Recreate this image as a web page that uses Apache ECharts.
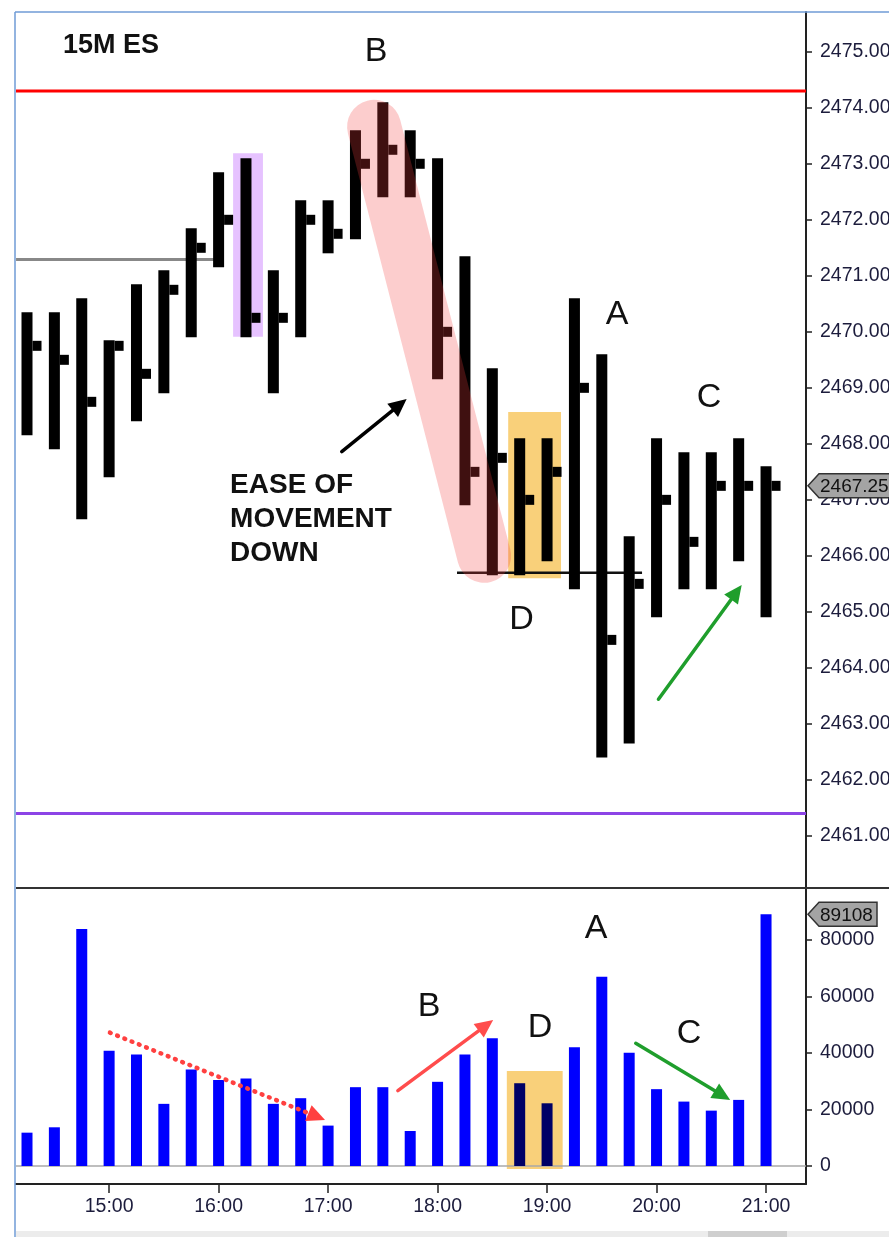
<!DOCTYPE html>
<html><head><meta charset="utf-8">
<script src="https://cdn.jsdelivr.net/npm/echarts@6/dist/echarts.min.js"></script>
<style>html,body{margin:0;padding:0;background:#fff}#c{width:889px;height:1237px}</style>
</head><body><div id="c"></div>
<script>
// ---------- data ----------
const times = ['14:15','14:30','14:45','15:00','15:15','15:30','15:45','16:00','16:15','16:30','16:45','17:00','17:15','17:30','17:45','18:00','18:15','18:30','18:45','19:00','19:15','19:30','19:45','20:00','20:15','20:30','20:45','21:00'];
const highs  = [2470.25,2470.25,2470.5,2469.75,2470.75,2471.0,2471.75,2472.75,2473.0,2471.0,2472.25,2472.25,2473.5,2474.0,2473.5,2473.0,2471.25,2469.25,2468.0,2468.0,2470.5,2469.5,2466.25,2468.0,2467.75,2467.75,2468.0,2467.5];
const lows   = [2468.25,2468.0,2466.75,2467.5,2468.5,2469.0,2470.0,2471.25,2470.0,2469.0,2470.0,2471.5,2471.75,2472.5,2472.5,2469.25,2467.0,2465.75,2465.75,2466.0,2465.5,2462.5,2462.75,2465.0,2465.5,2465.5,2466.0,2465.0];
const closes = [2469.75,2469.5,2468.75,2469.75,2469.25,2470.75,2471.5,2472.0,2470.25,2470.25,2472.0,2471.75,2473.0,2473.25,2473.0,2470.0,2467.5,2467.75,2467.0,2467.5,2469.0,2464.5,2465.5,2467.0,2466.25,2467.25,2467.25,2467.25];
const volumes = [11800,13700,83900,40800,39500,22000,34200,30400,31000,22000,24000,14300,27900,27900,12400,29800,39500,45200,29300,22200,42000,67000,40100,27200,22800,19600,23400,89108];
const priceTicks = [2461,2462,2463,2464,2465,2466,2467,2468,2469,2470,2471,2472,2473,2474,2475];
const volumeTicks = [0,20000,40000,60000,80000];
const dZoneBars = [18,19];
// horizontal levels: [fromIndex|null, toIndex|null, price, name]
const priceLevels = [[null,null,2474.3,'high'],[null,null,2461.4,'low'],[-0.4,7.05,2471.29,'prior'],[15.71,22.47,2465.70,'dline']];
// highlight boxes: [x1, y1, x2, y2, name]
const priceBoxes = [[7.53,2469.91,8.62,2473.19,'purple'],[17.58,2465.60,19.51,2468.57,'orange']];
const volumeBoxes = [[17.53,-1060,19.57,33600,'orange']];
// ease-of-movement capsule
const capsule = [[12.68,2473.66,16.70,2466.0]];
// arrows: [x1,y1,x2,y2,name]
const priceArrows = [[11.50,2467.86,13.87,2468.80,'black'],[23.07,2463.44,26.11,2465.48,'green']];
const volumeArrows = [[3.03,47190,10.89,16280,'reddot'],[13.55,26660,17.03,51680,'red'],[22.24,43440,25.69,23360,'green']];
// labels: [x, y, text]
const priceLabels = [[12.75,2475.0,'B'],[21.56,2470.30,'A'],[24.92,2468.82,'C'],[18.07,2464.86,'D']];
const noteLabels = [[7.42,2466.66,'EASE OF\nMOVEMENT\nDOWN']];
const volumeLabels = [[14.69,56290,'B'],[18.74,48850,'D'],[20.79,83900,'A'],[24.19,46730,'C']];

// ---------- layout / style ----------
const FONT = '"Liberation Sans", Arial, sans-serif';
const xMin = -0.402, xMax = 28.46;
const pMin = 2460.07, pMax = 2475.71;
const vMin = -6372, vMax = 98407;
const hourIdx = times.map((t,i)=>t.endsWith(':00')?i:-1).filter(i=>i>=0);
const levelColors = {high:'#ff0000', low:'#8c44e6', prior:'#888888', dline:'#111111'};
const boxColors = {purple:'#e6c2ff', orange:'#f9d07a'};
const arrowColors = {black:'#000000', green:'#1f9e2c', red:'#ff4c4c', reddot:'#ff4040'};

const chart = echarts.init(document.getElementById('c'), null, {renderer:'canvas'});

function boxSeries(data, xi, z){
  return {type:'custom', xAxisIndex:xi, yAxisIndex:xi, z:z, clip:false, silent:true,
    data:data.map(d=>[d[0],d[1],d[2],d[3]]),
    renderItem(params, api){
      const d = data[params.dataIndex];
      const a = api.coord([d[0], d[3]]), b = api.coord([d[2], d[1]]);
      return {type:'rect', shape:{x:a[0], y:a[1], width:b[0]-a[0], height:b[1]-a[1]}, style:{fill:boxColors[d[4]]}};
    }};
}
function arrowSeries(data, xi, z){
  return {type:'custom', xAxisIndex:xi, yAxisIndex:xi, z:z, clip:false, silent:true,
    data:data.map(d=>[d[0],d[1],d[2],d[3]]),
    renderItem(params, api){
      const d = data[params.dataIndex];
      const p1 = api.coord([d[0], d[1]]), p2 = api.coord([d[2], d[3]]);
      const col = arrowColors[d[4]];
      const ang = Math.atan2(p2[1]-p1[1], p2[0]-p1[0]);
      const hl = 18, hw = 8.5;
      const bx = p2[0]-hl*Math.cos(ang), by = p2[1]-hl*Math.sin(ang);
      const nx = -Math.sin(ang), ny = Math.cos(ang);
      const dotted = d[4]==='reddot';
      return {type:'group', children:[
        {type:'line', shape:{x1:p1[0], y1:p1[1], x2:bx+2*Math.cos(ang), y2:by+2*Math.sin(ang)},
          style:{stroke:col, lineWidth:dotted?4.5:3.5, lineCap:'round', lineDash:dotted?[0.8,7]:null}},
        {type:'polygon', shape:{points:[[p2[0],p2[1]],[bx+hw*nx,by+hw*ny],[bx-hw*nx,by-hw*ny]]}, style:{fill:col}}
      ]};
    }};
}
function textSeries(data, xi, z, font, lh, align){
  return {type:'custom', xAxisIndex:xi, yAxisIndex:xi, z:z, clip:false, silent:true,
    data:data.map(d=>[d[0],d[1]]),
    renderItem(params, api){
      const d = data[params.dataIndex];
      const p = api.coord([d[0], d[1]]);
      return {type:'text', x:p[0], y:p[1], style:{text:d[2], font:font, fill:'#111', align:align, verticalAlign:'middle', lineHeight:lh}};
    }};
}
function tagSeries(xi, xv, yv, text){
  return {type:'custom', xAxisIndex:xi, yAxisIndex:xi, z:20, clip:false, silent:true,
    data:[[xv, yv]],
    renderItem(params, api){
      const p = api.coord([api.value(0), api.value(1)]);
      const x0 = params.coordSys.x + params.coordSys.width + 2, y = p[1];
      const tw = text.length*10.2;
      const x1 = x0 + 12 + tw + 6;
      return {type:'group', children:[
        {type:'polygon', shape:{points:[[x0,y],[x0+11,y-12],[x1,y-12],[x1,y+12],[x0+11,y+12]]}, style:{fill:'#a4a4a4', stroke:'#333', lineWidth:1.5}},
        {type:'text', x:x0+12, y:y+1, style:{text:text, font:'19px '+FONT, fill:'#111', align:'left', verticalAlign:'middle'}}
      ]};
    }};
}

const axisLabelStyle = {color:'#1c1c3c', fontSize:19.5, fontFamily:FONT};
const last = times.length-1;

const option = {
  animation:false,
  backgroundColor:'#ffffff',
  title:{text:'15M ES', left:58, top:27, textStyle:{fontSize:27, fontWeight:'bold', color:'#111', fontFamily:FONT}},
  grid:[
    {left:16, top:12, width:790, height:876, show:false, containLabel:false, outerBoundsMode:'none'},
    {left:16, top:888, width:790, height:296, show:false, containLabel:false, outerBoundsMode:'none'}
  ],
  xAxis:[
    {type:'value', gridIndex:0, min:xMin, max:xMax, show:false},
    {type:'value', gridIndex:1, min:xMin, max:xMax,
      axisLine:{show:true, onZero:false, lineStyle:{color:'#222', width:2}},
      axisTick:{show:true, customValues:hourIdx, length:9, lineStyle:{color:'#222', width:1.5}},
      axisLabel:Object.assign({customValues:hourIdx, margin:13, formatter:v=>times[Math.round(v)]}, axisLabelStyle),
      splitLine:{show:false}}
  ],
  yAxis:[
    {type:'value', gridIndex:0, position:'right', min:pMin, max:pMax,
      axisLine:{show:true, onZero:false, lineStyle:{color:'#222', width:2}},
      axisTick:{show:true, customValues:priceTicks, length:6, lineStyle:{color:'#222', width:1.5}},
      axisLabel:Object.assign({customValues:priceTicks, margin:14, formatter:v=>Number(v).toFixed(2)}, axisLabelStyle),
      splitLine:{show:false}},
    {type:'value', gridIndex:1, position:'right', min:vMin, max:vMax,
      axisLine:{show:true, onZero:false, lineStyle:{color:'#222', width:2}},
      axisTick:{show:true, customValues:volumeTicks, length:6, lineStyle:{color:'#222', width:1.5}},
      axisLabel:Object.assign({customValues:volumeTicks, margin:14, formatter:v=>String(v)}, axisLabelStyle),
      splitLine:{show:false}}
  ],
  series:[
    boxSeries(priceBoxes, 0, 1),
    boxSeries(volumeBoxes, 1, 1),
    {type:'custom', name:'level', xAxisIndex:0, yAxisIndex:0, z:3, clip:false, silent:true,
      data:priceLevels.map(d=>[d[0]===null?xMin:d[0], d[2], d[1]===null?xMax:d[1]]),
      renderItem(params, api){
        const d = priceLevels[params.dataIndex];
        const a = api.coord([d[0]===null?xMin:d[0], d[2]]), b = api.coord([d[1]===null?xMax:d[1], d[2]]);
        return {type:'line', shape:{x1:a[0], y1:a[1], x2:b[0], y2:b[1]}, style:{stroke:levelColors[d[3]], lineWidth:d[3]==='dline'?2.5:3}};
      }},
    {type:'custom', name:'HLC', xAxisIndex:0, yAxisIndex:0, z:4, clip:false, silent:true,
      data:times.map((t,i)=>[i, highs[i], lows[i], closes[i]]),
      encode:{x:0, y:[1,2,3]},
      renderItem(params, api){
        const i = api.value(0);
        const pH = api.coord([i, api.value(1)]), pL = api.coord([i, api.value(2)]), pC = api.coord([i, api.value(3)]);
        const w = 11, cap = 5.5;
        return {type:'group', children:[
          {type:'rect', shape:{x:pH[0]-w/2, y:pH[1]-cap, width:w, height:pL[1]-pH[1]+2*cap}, style:{fill:'#000'}},
          {type:'rect', shape:{x:pC[0]+w/2, y:pC[1]-5, width:9, height:10}, style:{fill:'#000'}}
        ]};
      }},
    {type:'custom', name:'capsule', xAxisIndex:0, yAxisIndex:0, z:5, clip:false, silent:true,
      data:capsule,
      renderItem(params, api){
        const d = capsule[params.dataIndex];
        const a = api.coord([d[0], d[1]]), b = api.coord([d[2], d[3]]);
        return {type:'line', shape:{x1:a[0], y1:a[1], x2:b[0], y2:b[1]}, style:{stroke:'rgba(243,62,62,0.26)', lineWidth:54, lineCap:'round'}};
      }},
    {type:'bar', name:'Volume', xAxisIndex:1, yAxisIndex:1, z:3, barWidth:11, silent:true,
      data:volumes.map((v,i)=>({value:[i, v], itemStyle:{color: dZoneBars.includes(i)?'#000066':'#0000ff'}})),
      markLine:{silent:true, symbol:'none', label:{show:false}, lineStyle:{color:'#a8a8a8', width:1.5, type:'solid'}, data:[{yAxis:0}], z:2}},
    arrowSeries(priceArrows, 0, 8),
    arrowSeries(volumeArrows, 1, 8),
    textSeries(priceLabels, 0, 9, '34px '+FONT, 40, 'center'),
    textSeries(noteLabels, 0, 9, 'bold 28px '+FONT, 34, 'left'),
    textSeries(volumeLabels, 1, 9, '34px '+FONT, 40, 'center'),
    tagSeries(0, last, closes[last], closes[last].toFixed(2)),
    tagSeries(1, last, volumes[last], String(volumes[last]))
  ],
  graphic:[
    {type:'line', shape:{x1:15, y1:12, x2:889, y2:12}, style:{stroke:'#6f9bd6', lineWidth:1.5}, z:50},
    {type:'line', shape:{x1:15, y1:12, x2:15, y2:1237}, style:{stroke:'#6f9bd6', lineWidth:1.5}, z:50},
    {type:'line', shape:{x1:16, y1:888, x2:889, y2:888}, style:{stroke:'#333', lineWidth:2}, z:50},
    {type:'rect', shape:{x:16, y:1231, width:873, height:6}, style:{fill:'#ececec'}, z:50},
    {type:'rect', shape:{x:708, y:1231, width:79, height:6}, style:{fill:'#cfcfcf'}, z:51}
  ]
};
chart.setOption(option);
</script></body></html>
